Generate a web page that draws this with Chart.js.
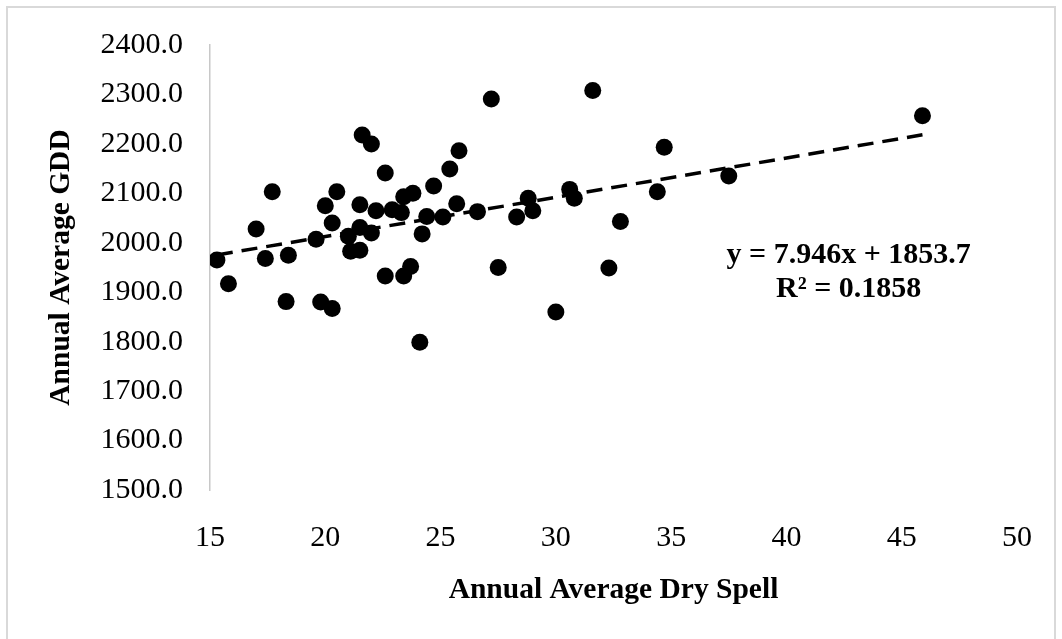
<!DOCTYPE html>
<html lang="en">
<head>
    <meta charset="UTF-8">
    <title>Annual Average GDD vs Dry Spell</title>
    <script src="https://cdn.jsdelivr.net/npm/chart.js"></script>
    <style>
        body { margin: 0; background: #fff; }
        #chart { display: block; }
    </style>
</head>
<body>
    <canvas id="chart" width="1062" height="639"></canvas>

    <script>
        // values
        const drySpell = [
            15.3, 15.8, 17.0, 17.4, 17.7, 18.4, 18.3, 19.6, 19.8, 20.0,
            20.3, 20.3, 20.5, 21.0, 21.1, 21.5, 21.5, 21.5, 21.6, 22.0,
            22.0, 22.2, 22.6, 22.6, 22.9, 23.3, 23.4, 23.4, 23.7, 23.8,
            24.2, 24.1, 24.4, 24.7, 25.1, 25.4, 25.7, 25.8, 26.6, 27.2,
            27.5, 28.3, 28.8, 29.0, 30.0, 30.6, 30.8, 31.6, 32.3, 32.8,
            34.4, 34.7, 37.5, 45.9
        ];
        const gdd = [
            1965, 1917, 2028, 1968, 2103, 1975, 1881, 2007, 1880, 2075,
            2040, 1867, 2103, 2013, 1983, 1985, 2077, 2031, 2218, 2200,
            2020, 2065, 2141, 1933, 2067, 2061, 2093, 1933, 1952, 2100,
            2018, 1799, 2053, 2115, 2052, 2149, 2079, 2186, 2063, 2291,
            1950, 2052, 2090, 2065, 1860, 2108, 2090, 2308, 1949, 2043,
            2103, 2193, 2135, 2257
        ];

        // linear trend shown on the chart
        const slope = 7.946;
        const intercept = 1853.7;
        const trendX = [15.3, 45.9];
        const equationLines = ['y = 7.946x + 1853.7', 'R\u00b2 = 0.1858'];

        const points = drySpell.map((x, i) => ({ x: x, y: gdd[i] }));
        const trend = trendX.map(x => ({ x: x, y: slope * x + intercept }));

        const serif = "'Liberation Serif', 'DejaVu Serif', serif";

        const frame = {
            id: 'frame',
            beforeDraw(chart) {
                const c = chart.ctx;
                c.save();
                c.fillStyle = '#fff';
                c.fillRect(0, 0, chart.width, chart.height);
                c.strokeStyle = '#d9d9d9';
                c.lineWidth = 2;
                c.strokeRect(7, 7, chart.width - 14, chart.height + 20);
                c.restore();
            },
            afterDraw(chart) {
                const c = chart.ctx;
                const xs = chart.scales.x, ys = chart.scales.y;
                const cx = xs.getPixelForValue(42.7);
                c.save();
                c.fillStyle = '#000';
                c.font = 'bold 30px ' + serif;
                c.textAlign = 'center';
                c.textBaseline = 'middle';
                c.fillText(equationLines[0], cx, ys.getPixelForValue(1974));
                c.fillText(equationLines[1], cx, ys.getPixelForValue(1906));
                c.restore();
            }
        };

        const ctx = document.getElementById('chart').getContext('2d');
        const chart = new Chart(ctx, {
            type: 'scatter',
            data: {
                datasets: [
                    {
                        data: points,
                        backgroundColor: '#000',
                        borderWidth: 0,
                        pointRadius: 8.5,
                        pointHoverRadius: 8.5
                    },
                    {
                        type: 'line',
                        data: trend,
                        borderColor: '#000',
                        borderWidth: 3.5,
                        borderDash: [16, 9],
                        pointRadius: 0,
                        fill: false
                    }
                ]
            },
            options: {
                responsive: false,
                animation: false,
                layout: { padding: { left: 0, top: 40, right: 41, bottom: 0 } },
                plugins: {
                    legend: { display: false },
                    tooltip: { enabled: false }
                },
                scales: {
                    x: {
                        type: 'linear',
                        min: 15,
                        max: 50,
                        afterFit: s => { s.height = 149; },
                        grid: { display: false, drawTicks: false },
                        border: { display: false },
                        ticks: {
                            stepSize: 5,
                            padding: 30,
                            color: '#000',
                            font: { family: serif, size: 30 }
                        },
                        title: {
                            display: true,
                            text: 'Annual Average Dry Spell',
                            color: '#000',
                            font: { family: serif, size: 29.5, weight: 'bold' },
                            padding: { top: 0, bottom: 31 }
                        }
                    },
                    y: {
                        min: 1500,
                        max: 2400,
                        afterFit: s => { s.width = 210; },
                        grid: { display: false, drawTicks: false },
                        border: { display: true, color: '#c8c8c8', width: 1.5 },
                        ticks: {
                            stepSize: 100,
                            padding: 27,
                            color: '#000',
                            font: { family: serif, size: 30 },
                            callback: v => v.toFixed(1)
                        },
                        title: {
                            display: true,
                            text: 'Annual Average GDD',
                            color: '#000',
                            font: { family: serif, size: 29.5, weight: 'bold' },
                            padding: { top: 44, bottom: 0 }
                        }
                    }
                }
            },
            plugins: [frame]
        });
    </script>
</body>
</html>
